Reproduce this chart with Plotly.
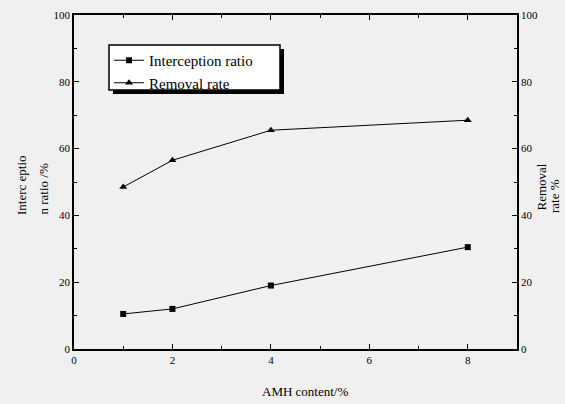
import plotly.graph_objects as go

amh = [1, 2, 4, 8]
interception = [10.5, 12.0, 19.0, 30.5]
removal = [48.5, 56.5, 65.5, 68.5]
series_names = ["Interception ratio", "Removal rate"]
x_ticks = [0, 2, 4, 6, 8]
y_ticks = [0, 20, 40, 60, 80, 100]

SERIF = "Liberation Serif"
font = dict(family=SERIF, size=12, color="black")
bg = "#f0f0f0"

W, H = 565, 404
L, R, T, B = 74, 48, 15, 55
pw, ph = W - L - R, H - T - B


def px(x):
    return (x - L) / pw


def py(y):
    return (H - B - y) / ph


fig = go.Figure()
fig.add_trace(go.Scatter(x=amh, y=interception, name=series_names[0],
                         mode="lines+markers",
                         line=dict(color="black", width=1),
                         marker=dict(symbol="square", size=6, color="black")))
fig.add_trace(go.Scatter(x=amh, y=removal, name=series_names[1],
                         mode="lines+markers", yaxis="y2",
                         line=dict(color="black", width=1),
                         marker=dict(symbol="triangle-up", size=7, color="black")))

axis_common = dict(showgrid=False, zeroline=False, showline=True, linecolor="black",
                   linewidth=1.5, ticks="inside", ticklen=5, tickcolor="black",
                   automargin=False,
                   tickfont=dict(family=SERIF, size=11, color="black"))

fig.update_layout(
    width=W, height=H,
    paper_bgcolor=bg, plot_bgcolor=bg,
    font=font,
    margin=dict(l=L, r=R, t=T, b=B),
    showlegend=True,
    legend=dict(x=px(109), y=py(44), xanchor="left", yanchor="top",
                bgcolor="rgba(0,0,0,0)", borderwidth=0,
                font=dict(family=SERIF, size=15, color="black"),
                itemwidth=30, tracegroupgap=0),
    xaxis=dict(range=[0, 9], tickvals=x_ticks, mirror="ticks",
               minor=dict(tickvals=[1, 3, 5, 7], ticks="inside", ticklen=3, tickcolor="black"),
               **axis_common),
    yaxis=dict(range=[0, 100], tickvals=y_ticks, mirror=True,
               minor=dict(dtick=10, ticks="inside", ticklen=3, tickcolor="black"),
               **axis_common),
    yaxis2=dict(range=[0, 100], tickvals=y_ticks, overlaying="y", side="right",
                minor=dict(dtick=10, ticks="inside", ticklen=3, tickcolor="black"),
                **axis_common),
)

# legend shadow and box
fig.add_shape(type="rect", xref="paper", yref="paper",
              x0=px(113), x1=px(284), y0=py(94), y1=py(49),
              fillcolor="black", line=dict(width=0), layer="above")
fig.add_shape(type="rect", xref="paper", yref="paper",
              x0=px(109), x1=px(280), y0=py(90), y1=py(45),
              fillcolor="white", line=dict(color="black", width=1.5), layer="above")

fig.add_annotation(text="AMH content/%", xref="paper", yref="paper",
                   x=px(305), y=py(391), xanchor="center", yanchor="middle", showarrow=False,
                   font=dict(family=SERIF, size=13))
for txt, xx, yy in [("Interc eptio", 21, 217), ("n ratio /%", 43, 217),
                    ("Removal", 541, 213), ("rate %", 554, 215)]:
    fig.add_annotation(text=txt, xref="paper", yref="paper",
                       x=px(xx), y=py(yy), xanchor="center", yanchor="bottom",
                       textangle=-90, showarrow=False,
                       font=dict(family=SERIF, size=13))

fig.write_html("out.html", config={"displayModeBar": False},
               post_script="document.body.style.margin='0';")
